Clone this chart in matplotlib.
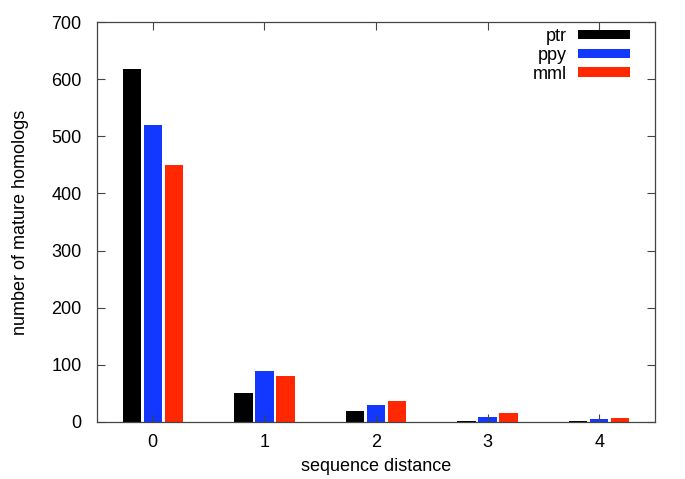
import numpy as np
import matplotlib.pyplot as plt

plt.rcParams['font.family'] = ['Liberation Sans', 'DejaVu Sans']

distances = [0, 1, 2, 3, 4]
ptr = [617, 51, 19, 1, 1]
ppy = [520, 89, 29, 9, 5]
mml = [449, 81, 37, 15, 7]

series = [("ptr", ptr, "#000000"), ("ppy", ppy, "#1238ff"), ("mml", mml, "#ff2800")]

fig = plt.figure(figsize=(6.85, 4.79), dpi=100)
ax = fig.add_axes([0.1416, 0.119, 0.8146, 0.835])

x = np.arange(len(distances))
w = 0.165
step = 0.188
for i, (name, vals, col) in enumerate(series):
    ax.bar(x + (i - 1) * step, vals, width=w, color=col, label=name, linewidth=0)

ax.set_xlim(-0.5, 4.5)
ax.set_ylim(0, 700)
ax.set_xticks(x)
ax.set_xticklabels([str(d) for d in distances])
ax.set_yticks(range(0, 701, 100))
ax.tick_params(direction='in', top=True, right=True, length=6, width=0.8,
               labelsize=13, color='#444444')
ax.tick_params(axis='y', pad=11)
ax.tick_params(axis='x', pad=9)
for s in ax.spines.values():
    s.set_color('#444444')
    s.set_linewidth(0.9)

ax.set_xlabel('sequence distance', fontsize=13, labelpad=5)
ax.set_ylabel('number of mature homologs', fontsize=13, labelpad=16)

leg = ax.legend(loc='upper right', bbox_to_anchor=(0.955, 0.985), frameon=False,
                markerfirst=False, fontsize=13, handlelength=2.9, handleheight=0.45,
                labelspacing=0.1, handletextpad=0.6, borderaxespad=0, borderpad=0)

fig.savefig('out.png', dpi=100)
